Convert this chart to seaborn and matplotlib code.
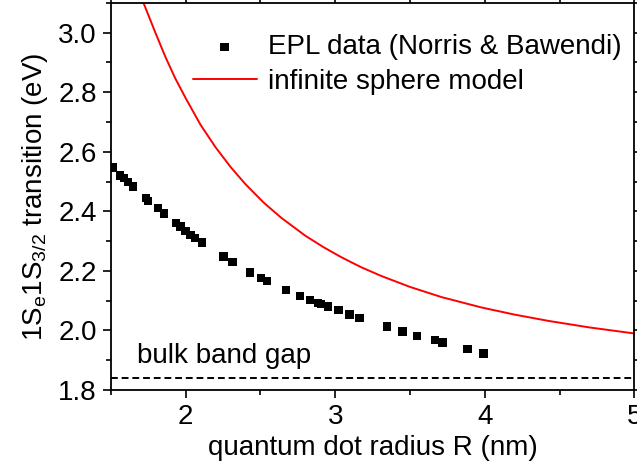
import numpy as np
import pandas as pd
import matplotlib
matplotlib.use("Agg")
import matplotlib.pyplot as plt
import seaborn as sns
from matplotlib.ticker import MultipleLocator

# EPL data (Norris & Bawendi)
radius = [1.51, 1.56, 1.586, 1.615, 1.646, 1.736, 1.749, 1.817, 1.854, 1.937,
          1.966, 2.0, 2.033, 2.062, 2.11, 2.252, 2.313, 2.431, 2.503, 2.543,
          2.67, 2.766, 2.833, 2.883, 2.905, 2.95, 3.021, 3.095, 3.162, 3.347,
          3.45, 3.545, 3.667, 3.716, 3.884, 3.99]
energy = [2.547, 2.52, 2.511, 2.498, 2.483, 2.444, 2.435, 2.41, 2.393, 2.36,
          2.349, 2.334, 2.32, 2.31, 2.295, 2.248, 2.229, 2.195, 2.177, 2.166,
          2.136, 2.116, 2.102, 2.091, 2.089, 2.08, 2.069, 2.053, 2.041, 2.013,
          1.996, 1.981, 1.968, 1.959, 1.937, 1.923]

# infinite sphere model curve
model_r = [1.70, 1.718, 1.80, 1.866, 1.93, 2.0, 2.1, 2.2, 2.3, 2.4, 2.52, 2.637,
           2.8, 2.92, 3.04, 3.17, 3.307, 3.5, 3.71, 3.978, 4.2, 4.425, 4.7, 4.996, 5.05]
model_e = [3.138, 3.10, 2.997, 2.917, 2.847, 2.78, 2.69, 2.615, 2.549, 2.491,
           2.43, 2.379, 2.318, 2.28, 2.246, 2.213, 2.183, 2.146, 2.112, 2.077,
           2.053, 2.032, 2.01, 1.99, 1.987]

band_gap = 1.84

sns.set_style("ticks")
plt.rcParams['font.family'] = ['Liberation Sans', 'DejaVu Sans']
plt.rcParams['mathtext.fontset'] = 'custom'
plt.rcParams['mathtext.rm'] = 'Liberation Sans'
plt.rcParams['mathtext.it'] = 'Liberation Sans'
plt.rcParams['text.color'] = 'black'
plt.rcParams['axes.labelcolor'] = 'black'

FS = 20

fig = plt.figure(figsize=(6.37, 4.71), dpi=100)
ax = fig.add_axes([0.174, 0.172, 0.822, 0.822])

epl = pd.DataFrame({'R': radius, 'E': energy})
model = pd.DataFrame({'R': model_r, 'E': model_e})

sns.scatterplot(data=epl, x='R', y='E', marker='s', s=36, color='black',
                edgecolor='none', ax=ax, label='EPL data (Norris & Bawendi)', zorder=3)
sns.lineplot(data=model, x='R', y='E', color='#ff0000', linewidth=1.4, ax=ax,
             label='infinite sphere model', sort=False)
ax.axhline(band_gap, color='black', linestyle=(0, (3.5, 2)), linewidth=1.4)
ax.text(1.675, 1.891, 'bulk band gap', fontsize=FS, va='baseline', ha='left')

ax.set_xlim(1.5, 5)
ax.set_ylim(1.8, 3.1)
ax.xaxis.set_major_locator(MultipleLocator(1))
ax.xaxis.set_minor_locator(MultipleLocator(0.5))
ax.yaxis.set_major_locator(MultipleLocator(0.2))
ax.yaxis.set_minor_locator(MultipleLocator(0.1))

ax.set_xlabel('quantum dot radius R (nm)', fontsize=FS, labelpad=4)
ax.set_ylabel(r'1S$_\mathregular{e}$1S$_\mathregular{3/2}$ transition (eV)', fontsize=FS, labelpad=6)

for s in ax.spines.values():
    s.set_visible(True)
    s.set_linewidth(1.3)
    s.set_color('black')

ax.tick_params(which='both', labelsize=FS, width=1.2, colors='black')
ax.tick_params(which='major', length=6, pad=4)
ax.tick_params(which='minor', length=3.5)
ax.tick_params(which='both', top=True, right=True)

leg = ax.legend(loc='upper left', bbox_to_anchor=(0.135, 0.947), frameon=False,
                fontsize=FS, handlelength=2.3, handletextpad=0.4,
                labelspacing=0.3, borderaxespad=0.0, markerscale=1.0)

fig.savefig('out.png', dpi=100)
